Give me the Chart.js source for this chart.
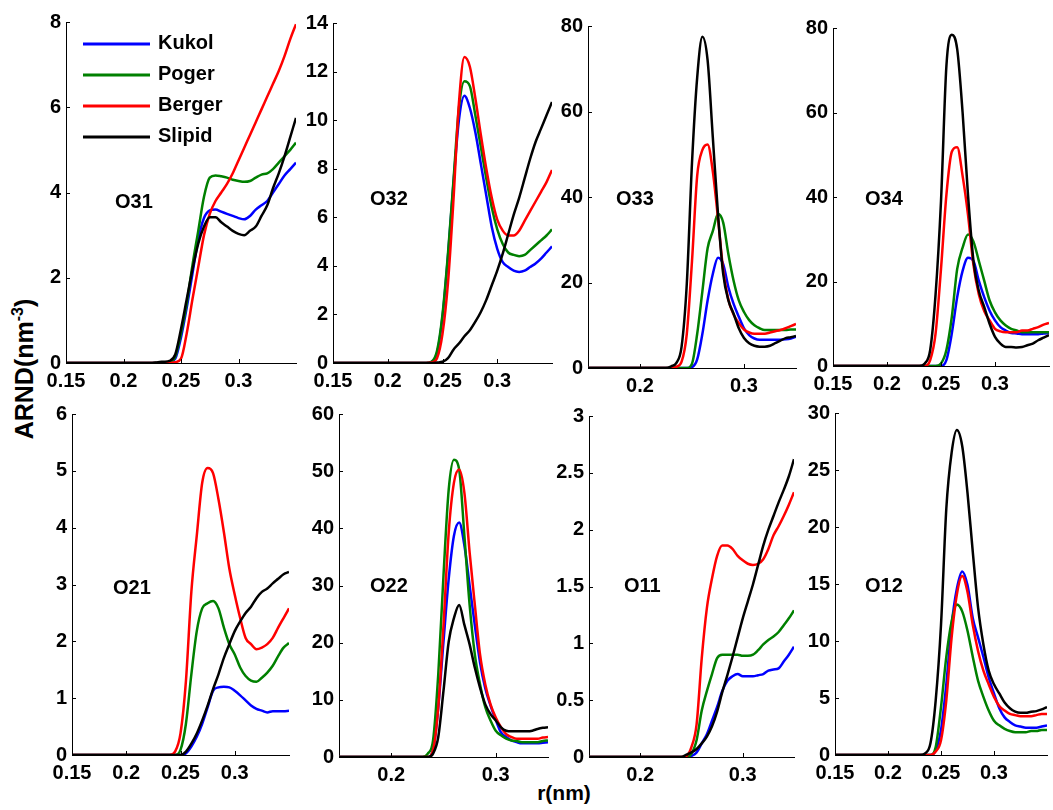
<!DOCTYPE html>
<html>
<head>
<meta charset="utf-8">
<script src="https://cdn.jsdelivr.net/npm/chart.js@4.4.0/dist/chart.umd.min.js"></script>
<style>
  body { margin: 0; background: #fff; width: 1053px; height: 810px; position: relative; overflow: hidden;
         font-family: "Liberation Sans", Arial, sans-serif; }
  canvas { position: absolute; }
  .axlab { position: absolute; font-weight: bold; color: #000; white-space: nowrap; }
  #ylab { left: 24px; top: 369px; font-size: 25px; transform: translate(-50%, -50%) rotate(-90deg); }
  #ylab sup { font-size: 16px; }
  #xlab { left: 564px; top: 793px; font-size: 21px; transform: translate(-50%, -50%); }
</style>
</head>
<body>
<div class="axlab" id="ylab">ARND(nm<sup>-3</sup>)</div>
<div class="axlab" id="xlab">r(nm)</div>
<script>
// r (nm) sample points shared by all panels
const rValues = [0.15, 0.2, 0.225, 0.23, 0.235, 0.24, 0.245, 0.25, 0.255, 0.26, 0.265, 0.27, 0.275, 0.28,
                 0.285, 0.29, 0.295, 0.30, 0.305, 0.31, 0.315, 0.32, 0.325, 0.33, 0.335, 0.34, 0.345, 0.35];

const seriesNames = ['Kukol', 'Poger', 'Berger', 'Slipid'];
const seriesColors = ['#0000ff', '#008000', '#ff0000', '#000000'];

const xTicksFull = [0.15, 0.2, 0.25, 0.3];
const xTicksShort = [0.2, 0.3];

// O31
const o31Kukol  = [0,0,0,0,0,0.02,0.1,0.6,1.3,2.1,2.9,3.4,3.58,3.6,3.55,3.5,3.45,3.4,3.37,3.45,3.6,3.7,3.8,4.0,4.2,4.4,4.55,4.7];
const o31Poger  = [0,0,0,0,0,0.02,0.15,0.7,1.4,2.3,3.1,3.9,4.35,4.4,4.38,4.35,4.3,4.27,4.25,4.27,4.35,4.42,4.45,4.55,4.7,4.85,5.0,5.17];
const o31Berger = [0,0,0,0,0,0,0.02,0.1,0.7,1.5,2.25,3.0,3.5,3.8,4.0,4.2,4.45,4.75,5.05,5.35,5.65,5.95,6.25,6.55,6.85,7.2,7.6,7.95];
const o31Slipid = [0,0,0,0.02,0.03,0.05,0.2,0.8,1.5,2.2,2.8,3.2,3.42,3.42,3.3,3.2,3.1,3.03,3.0,3.1,3.2,3.45,3.7,4.1,4.45,4.85,5.3,5.75];
const o31YTicks = [0, 2, 4, 6, 8];

// O32
const o32Kukol  = [0,0,0,0,0,0.05,0.4,1.9,4.4,7.4,10.0,11.0,10.5,9.5,8.2,6.9,5.6,4.7,4.15,3.95,3.8,3.75,3.8,3.95,4.1,4.3,4.55,4.8];
const o32Poger  = [0,0,0,0,0,0.05,0.5,2.0,4.5,7.5,10.5,11.6,11.4,10.2,8.9,7.6,6.4,5.5,4.9,4.55,4.45,4.4,4.45,4.65,4.85,5.05,5.25,5.5];
const o32Berger = [0,0,0,0,0,0.02,0.2,1.2,3.3,6.7,10.7,12.6,12.2,10.9,9.4,8.0,6.8,5.9,5.45,5.25,5.25,5.45,5.85,6.25,6.65,7.05,7.45,7.95];
const o32Slipid = [0,0,0,0,0,0,0.02,0.05,0.2,0.55,0.8,1.1,1.35,1.7,2.1,2.6,3.2,3.8,4.5,5.3,6.1,6.8,7.6,8.4,9.1,9.65,10.2,10.75];
const o32YTicks = [0, 2, 4, 6, 8, 10, 12, 14];

// O33
const o33Kukol  = [0,0,0,0,0,0,0,0.2,2,8,15.8,22,25.8,24.3,18.9,15,12,9.3,7.7,6.9,6.6,6.6,6.6,6.6,6.6,6.7,6.9,7.3];
const o33Poger  = [0,0,0,0,0,0,0,1,8,18,28,32,36,34,26.6,20.4,15.8,13.1,11.2,10.0,9.3,8.9,8.9,8.9,8.9,8.9,9.0,9.0];
const o33Berger = [0,0,0,0,0.3,1.5,8,25,45,51,52.3,46,35,23,16,12.5,10.5,9,8.3,8.0,8.0,8.0,8.3,8.6,8.9,9.3,9.8,10.3];
const o33Slipid = [0,0,0,0.4,1.2,5,19.7,48,68,77.5,72,54,36,22,15.8,12.7,9.3,7.0,5.8,5.2,5.0,5.0,5.2,5.8,6.4,7.0,7.2,7.5];
const o33YTicks = [0, 20, 40, 60, 80];

// O34
const o34Kukol  = [0,0,0,0,0,0,0,0,1.4,7.7,16.3,22.5,25.6,24.9,20.2,16.3,13.1,10.8,9.2,8.4,7.8,7.7,7.5,7.5,7.5,7.5,7.7,7.8];
const o34Poger  = [0,0,0,0,0,0,0,0.6,3.8,11.6,23,28,31.1,29.5,24.9,20.2,15.5,12.7,10.8,9.6,8.8,8.4,8.0,8.0,8.0,8.0,8.0,8.0];
const o34Berger = [0,0,0,0,0,1.4,7.7,23,40.5,50.7,51.8,45,35.8,24,17,13,10.8,8.8,8.2,8.0,8.0,8.0,8.4,8.4,8.8,9.2,9.8,10.2];
const o34Slipid = [0,0,0,0,0.6,3.8,17,39,71,78.4,75,60,40.5,25,17.8,14,10,6.9,5.3,4.5,4.5,4.4,4.5,4.9,5.3,6.1,6.7,7.3];
const o34YTicks = [0, 20, 40, 60, 80];

// O21
const o21Kukol  = [0,0,0,0,0,0,0,0,0.03,0.15,0.32,0.55,0.84,1.13,1.19,1.2,1.19,1.13,1.05,0.96,0.87,0.81,0.78,0.75,0.77,0.77,0.77,0.78];
const o21Poger  = [0,0,0,0,0,0,0,0.09,0.55,1.42,2.18,2.58,2.67,2.71,2.58,2.24,1.95,1.77,1.54,1.39,1.31,1.29,1.36,1.45,1.57,1.74,1.89,1.97];
const o21Berger = [0,0,0,0,0,0,0.06,0.38,1.3,2.87,3.86,4.79,5.05,4.96,4.5,3.92,3.28,2.82,2.41,2.06,1.95,1.86,1.89,1.95,2.06,2.24,2.41,2.58];
const o21Slipid = [0,0,0,0,0,0,0,0,0.06,0.2,0.38,0.61,0.87,1.16,1.42,1.71,1.95,2.18,2.35,2.5,2.61,2.76,2.87,2.93,3.02,3.1,3.18,3.22];
const o21YTicks = [0, 1, 2, 3, 4, 5, 6];

// O22
const o22Kukol  = [0,0,0,0,0,1.2,8.7,20.2,31.2,38.7,41,37,30,23,16.5,12,9,6.5,4.3,3.5,2.9,2.6,2.4,2.4,2.4,2.4,2.5,2.6];
const o22Poger  = [0,0,0,0,0.6,2.9,14.5,31.8,46.8,52,50.3,38.7,26.6,17.9,12.7,8.7,6.4,4.6,3.8,3.2,2.9,2.8,2.6,2.6,2.6,2.6,2.8,2.9];
const o22Berger = [0,0,0,0,0,1.2,8.7,23,39.3,48,50.3,46.2,35.8,26.6,17.9,12.7,9.2,6.9,5.2,4.0,3.5,3.2,3.2,3.2,3.2,3.2,3.4,3.5];
const o22Slipid = [0,0,0,0,0,0.6,3.5,11.6,20.2,24.3,26.6,23.1,19.7,15.6,12.1,9.2,7.5,6.4,5.2,4.6,4.5,4.5,4.5,4.5,4.6,4.9,5.1,5.2];
const o22YTicks = [0, 10, 20, 30, 40, 50, 60];

// O11
const o11Kukol  = [0,0,0,0,0,0,0,0.01,0.04,0.12,0.2,0.32,0.44,0.58,0.67,0.71,0.73,0.71,0.71,0.71,0.72,0.73,0.76,0.77,0.78,0.84,0.9,0.97];
const o11Poger  = [0,0,0,0,0,0,0,0.03,0.15,0.41,0.58,0.73,0.87,0.9,0.9,0.9,0.9,0.89,0.89,0.9,0.94,0.99,1.03,1.06,1.1,1.16,1.22,1.29];
const o11Berger = [0,0,0,0,0,0,0.01,0.09,0.29,0.87,1.31,1.57,1.77,1.86,1.86,1.83,1.77,1.73,1.7,1.69,1.7,1.74,1.83,1.95,2.03,2.12,2.22,2.33];
const o11Slipid = [0,0,0,0,0,0,0.02,0.04,0.07,0.12,0.18,0.27,0.4,0.57,0.72,0.88,1.05,1.22,1.37,1.52,1.69,1.86,2.0,2.12,2.24,2.35,2.47,2.62];
const o11YTicks = [0, 0.5, 1, 1.5, 2, 2.5, 3];

// O12
const o12Kukol  = [0,0,0,0,0,0,0.4,2.2,6.2,11.4,14.6,16.1,14.9,12.0,10.3,8.6,6.8,5.4,4.1,3.3,2.9,2.6,2.5,2.4,2.4,2.4,2.5,2.6];
const o12Poger  = [0,0,0,0,0,0,0.7,4.2,8.6,11.7,13.2,12.6,10.9,8.6,6.5,5.1,3.9,3.0,2.6,2.3,2.1,2.0,2.0,2.0,2.1,2.1,2.2,2.2];
const o12Berger = [0,0,0,0,0,0,0.3,1.3,4.8,10.3,14.1,15.7,14.3,11.4,9.1,7.4,6.2,5.1,4.3,3.9,3.6,3.5,3.4,3.4,3.4,3.5,3.6,3.6];
const o12Slipid = [0,0,0,0,0.15,1.0,4.8,11.4,21.6,26.5,28.5,27.1,23,17.8,12.9,9.7,7.4,6.2,5.4,4.6,4.1,3.8,3.7,3.7,3.8,3.85,4.0,4.2];
const o12YTicks = [0, 5, 10, 15, 20, 25, 30];

// panel layout: plot box [left, top, right, bottom] in page pixels, label offset from plot top-left
const panels = [
  { name: 'O31', series: [o31Kukol, o31Poger, o31Berger, o31Slipid], yTicks: o31YTicks, xTicks: xTicksFull,  box: [66, 19, 296, 363],   label: [49, 180], legend: true },
  { name: 'O32', series: [o32Kukol, o32Poger, o32Berger, o32Slipid], yTicks: o32YTicks, xTicks: xTicksFull,  box: [333, 20, 552, 363],  label: [37, 176] },
  { name: 'O33', series: [o33Kukol, o33Poger, o33Berger, o33Slipid], yTicks: o33YTicks, xTicks: xTicksShort, box: [588, 23, 796, 368],  label: [28, 173] },
  { name: 'O34', series: [o34Kukol, o34Poger, o34Berger, o34Slipid], yTicks: o34YTicks, xTicks: xTicksFull,  box: [833, 25, 1049, 366], label: [32, 171] },
  { name: 'O21', series: [o21Kukol, o21Poger, o21Berger, o21Slipid], yTicks: o21YTicks, xTicks: xTicksFull,  box: [72, 411, 289, 755],  label: [41, 174] },
  { name: 'O22', series: [o22Kukol, o22Poger, o22Berger, o22Slipid], yTicks: o22YTicks, xTicks: xTicksShort, box: [339, 411, 548, 757], label: [31, 172] },
  { name: 'O11', series: [o11Kukol, o11Poger, o11Berger, o11Slipid], yTicks: o11YTicks, xTicks: xTicksShort, box: [589, 413, 794, 757], label: [35, 170] },
  { name: 'O12', series: [o12Kukol, o12Poger, o12Berger, o12Slipid], yTicks: o12YTicks, xTicks: xTicksFull,  box: [835, 410, 1047, 755], label: [30, 173] }
];

const FONT_FAMILY = '"Liberation Sans", Arial, sans-serif';
const tickFont = { family: FONT_FAMILY, size: 20, weight: 'bold' };
const Y_AXIS_W = 44, X_AXIS_H = 32, PAD_TOP = 14, PAD_RIGHT = 10;

// inward tick marks, panel name and (first panel) legend
const panelDecor = {
  id: 'panelDecor',
  afterDraw(chart, args, opts) {
    const ctx = chart.ctx, a = chart.chartArea;
    const xs = chart.scales.x, ys = chart.scales.y;
    ctx.save();
    ctx.strokeStyle = '#000';
    ctx.lineWidth = 1;
    ctx.beginPath();
    ys.ticks.forEach(t => {
      const p = Math.round(ys.getPixelForValue(t.value)) + 0.5;
      ctx.moveTo(a.left, p); ctx.lineTo(a.left + 4, p);
    });
    xs.ticks.forEach(t => {
      const p = Math.round(xs.getPixelForValue(t.value)) + 0.5;
      ctx.moveTo(p, a.bottom); ctx.lineTo(p, a.bottom - 4);
    });
    ctx.stroke();

    ctx.fillStyle = '#000';
    ctx.font = 'bold 20px ' + FONT_FAMILY;
    ctx.textAlign = 'left';
    ctx.textBaseline = 'middle';
    ctx.fillText(opts.name, a.left + opts.dx, a.top + opts.dy);

    if (opts.legend) {
      seriesNames.forEach((n, i) => {
        const y = a.top + 22 + i * 31;
        ctx.strokeStyle = seriesColors[i];
        ctx.lineWidth = 3;
        ctx.beginPath();
        ctx.moveTo(a.left + 17, y); ctx.lineTo(a.left + 84, y);
        ctx.stroke();
        ctx.fillText(n, a.left + 92, y - 1);
      });
    }
    ctx.restore();
  }
};

panels.forEach(p => {
  const [L, T, R, B] = p.box;
  const cv = document.createElement('canvas');
  const w = R - L + Y_AXIS_W + PAD_RIGHT;
  const h = B - T + PAD_TOP + X_AXIS_H;
  cv.width = w; cv.height = h;
  cv.style.left = (L - Y_AXIS_W) + 'px';
  cv.style.top = (T - PAD_TOP) + 'px';
  cv.style.width = w + 'px';
  cv.style.height = h + 'px';
  document.body.appendChild(cv);

  // Slipid first so it is drawn on top
  const datasets = [3, 2, 1, 0].map(i => ({
    label: seriesNames[i],
    data: rValues.map((r, k) => ({ x: r, y: p.series[i][k] })),
    borderColor: seriesColors[i],
    borderWidth: 2.5,
    pointRadius: 0,
    fill: false,
    cubicInterpolationMode: 'monotone'
  }));

  new Chart(cv, {
    type: 'line',
    data: { datasets: datasets },
    plugins: [panelDecor],
    options: {
      responsive: false,
      animation: false,
      devicePixelRatio: 1,
      layout: { padding: { left: 0, top: PAD_TOP, right: PAD_RIGHT, bottom: 0 } },
      plugins: {
        legend: { display: false },
        tooltip: { enabled: false },
        panelDecor: { name: p.name, dx: p.label[0], dy: p.label[1], legend: !!p.legend }
      },
      scales: {
        x: {
          type: 'linear',
          min: 0.15,
          max: 0.35,
          afterBuildTicks: s => { s.ticks = p.xTicks.map(v => ({ value: v })); },
          afterFit: s => { s.height = X_AXIS_H; },
          grid: { display: false, drawTicks: false },
          border: { display: true, color: '#000', width: 1 },
          ticks: { font: tickFont, color: '#000', padding: 6, maxRotation: 0, autoSkip: false,
                   callback: v => String(v) }
        },
        y: {
          min: 0,
          max: p.yTicks[p.yTicks.length - 1],
          afterBuildTicks: s => { s.ticks = p.yTicks.map(v => ({ value: v })); },
          afterFit: s => { s.width = Y_AXIS_W; },
          grid: { display: false, drawTicks: false },
          border: { display: true, color: '#000', width: 1 },
          ticks: { font: tickFont, color: '#000', padding: 5, autoSkip: false,
                   callback: v => String(v) }
        }
      }
    }
  });
});
</script>
</body>
</html>
